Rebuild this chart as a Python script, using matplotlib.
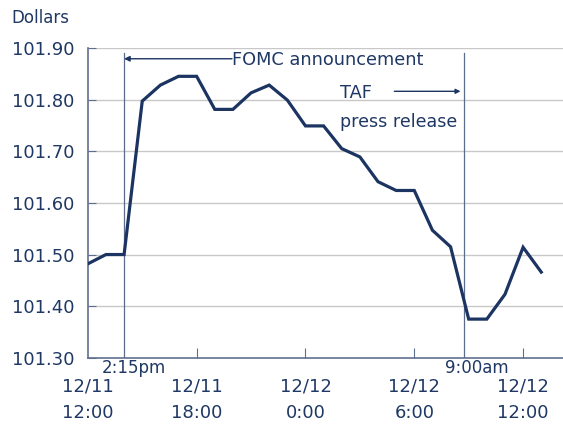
import matplotlib
matplotlib.use("Agg")
import matplotlib.pyplot as plt

hours = list(range(26))
prices = [101.482, 101.50, 101.50, 101.797, 101.828, 101.845, 101.845, 101.781,
          101.781, 101.813, 101.828, 101.799, 101.749, 101.749, 101.705, 101.689,
          101.641, 101.624, 101.624, 101.547, 101.515, 101.375, 101.375, 101.423,
          101.514, 101.466]
tick_hours = [0, 6, 12, 18, 24]
tick_labels = ["12/11\n12:00", "12/11\n18:00", "12/12\n0:00", "12/12\n6:00", "12/12\n12:00"]
yticks = [101.30, 101.40, 101.50, 101.60, 101.70, 101.80, 101.90]
event_x = [2.0, 20.76]
event_labels = ["2:15pm", "9:00am"]
event_label_x = [2.55, 21.47]

navy = "#1f3864"
linec = "#1c3461"
plt.rcParams['font.family'] = ['DejaVu Sans']

fig = plt.figure(figsize=(5.63, 4.24), dpi=100)
ax = fig.add_axes([0.156, 0.156, 0.844, 0.731])
ax.set_xlim(0, 26.2)
ax.set_ylim(101.30, 101.90)

for y in yticks[1:]:
    ax.axhline(y, color="#c8c8c8", lw=1.0, zorder=0)

for x in event_x:
    ax.plot([x, x], [101.30, 101.89], color="#5a6b8c", lw=0.9, zorder=1)

ax.plot(hours, prices, color=linec, lw=2.3, zorder=3, solid_joinstyle='miter')

for s in ["top", "right"]:
    ax.spines[s].set_visible(False)
for s in ["left", "bottom"]:
    ax.spines[s].set_color("#5f6f8f")
    ax.spines[s].set_linewidth(1.2)

ax.set_yticks(yticks)
ax.set_yticklabels([f"{v:.2f}" for v in yticks], fontsize=13, color=navy)
ax.set_xticks(tick_hours)
ax.set_xticklabels(tick_labels, fontsize=13, color=navy, linespacing=1.6)
ax.tick_params(axis='y', direction='in', length=6, color="#5f6f8f", pad=9.5)
ax.tick_params(axis='x', direction='in', length=7, color="#5f6f8f", pad=14.5)
ax.xaxis.get_ticklines()[0].set_visible(False)

for x, lab in zip(event_label_x, event_labels):
    ax.text(x, 101.30 - 0.002, lab, ha="center", va="top", fontsize=12, color=navy)

fig.text(0.02, 0.957, "Dollars", fontsize=12, color=navy, va="center", ha="left")

ax.annotate("", xy=(event_x[0], 101.879), xytext=(7.95, 101.879),
            arrowprops=dict(arrowstyle='-|>', lw=1.0, color=linec, mutation_scale=8, shrinkA=0, shrinkB=0))
ax.text(7.95, 101.876, "FOMC announcement", fontsize=12.8, color=navy, va="center", ha="left")
ax.text(13.9, 101.812, "TAF", fontsize=12.8, color=navy, va="center", ha="left")
ax.annotate("", xy=(20.55, 101.816), xytext=(16.9, 101.816),
            arrowprops=dict(arrowstyle='-|>', lw=1.0, color=linec, mutation_scale=7, shrinkA=0, shrinkB=0))
ax.text(13.9, 101.757, "press release", fontsize=12.6, color=navy, va="center", ha="left")

fig.savefig("out.png", dpi=100)
